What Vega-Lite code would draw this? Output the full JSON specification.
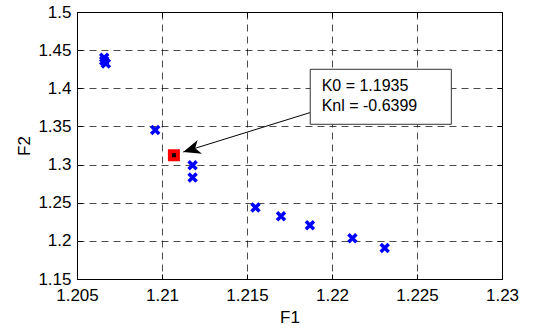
{
  "$schema": "https://vega.github.io/schema/vega-lite/v6.json",
  "autosize": {"type": "none"},
  "width": 425,
  "height": 267,
  "padding": {"left": 77, "top": 12, "right": 31, "bottom": 52},
  "background": "white",
  "config": {
    "view": {"stroke": "black", "strokeWidth": 1},
    "font": "Liberation Sans",
    "axis": {
      "domain": false,
      "ticks": true,
      "tickSize": -5,
      "tickColor": "#000000",
      "tickWidth": 1,
      "grid": true,
      "gridColor": "#000000",
      "gridOpacity": 0.7,
      "gridDash": [7, 5],
      "gridWidth": 1,
      "labelOverlap": false,
      "labelFlush": false,
      "labelBound": false,
      "labelFont": "Liberation Sans",
      "labelFontSize": 17,
      "labelColor": "#000000",
      "titleFont": "Liberation Sans",
      "titleFontSize": 17,
      "titleFontWeight": "normal",
      "titleColor": "#000000"
    }
  },
  "datasets": {
    "points": [
      {"F1": 1.2066, "F2": 1.4400},
      {"F1": 1.2066, "F2": 1.4360},
      {"F1": 1.2067, "F2": 1.4325},
      {"F1": 1.2096, "F2": 1.3453},
      {"F1": 1.2118, "F2": 1.2991},
      {"F1": 1.2118, "F2": 1.2830},
      {"F1": 1.2155, "F2": 1.2436},
      {"F1": 1.2170, "F2": 1.2322},
      {"F1": 1.2187, "F2": 1.2204},
      {"F1": 1.2212, "F2": 1.2034},
      {"F1": 1.2231, "F2": 1.1907}
    ],
    "best": [{"F1": 1.2107, "F2": 1.3122}],
    "box": [{"x1": 1.21872, "x2": 1.22702, "y1": 1.3528, "y2": 1.4249}],
    "labels": [
      {"F1": 1.21939, "F2": 1.4030, "text": "K0 = 1.1935"},
      {"F1": 1.21939, "F2": 1.3768, "text": "Knl = -0.6399"}
    ],
    "arrow": [{"x1": 1.21872, "y1": 1.3682, "x2": 1.21125, "y2": 1.3165}]
  },
  "resolve": {"axis": {"x": "independent", "y": "independent"}},
  "layer": [
    {
      "data": {"name": "points"},
      "mark": {"type": "point", "shape": "M-1,-1L1,1M1,-1L-1,1", "filled": false, "stroke": "#0000ff", "strokeWidth": 3.5, "size": 64, "opacity": 1},
      "encoding": {
        "x": {"field": "F1", "type": "quantitative", "scale": {"domain": [1.205, 1.23], "nice": false, "zero": false}, "axis": {"values": [1.205, 1.21, 1.215, 1.22, 1.225, 1.23], "labelExpr": "format(datum.value, '~g')", "title": "F1", "labelPadding": 13, "titlePadding": 6}},
        "y": {"field": "F2", "type": "quantitative", "scale": {"domain": [1.15, 1.5], "nice": false, "zero": false}, "axis": {"values": [1.15, 1.2, 1.25, 1.3, 1.35, 1.4, 1.45, 1.5], "labelExpr": "format(datum.value, '~g')", "title": "F2", "labelPadding": 11, "titlePadding": 4}}
      }
    },
    {
      "data": {"name": "best"},
      "mark": {"type": "point", "shape": "square", "filled": true, "fill": "#000000", "stroke": "#ff0000", "strokeWidth": 4, "size": 64, "opacity": 1},
      "encoding": {
        "x": {"field": "F1", "type": "quantitative", "axis": {"orient": "top", "values": [1.205, 1.21, 1.215, 1.22, 1.225, 1.23], "labels": false, "title": null, "grid": false}},
        "y": {"field": "F2", "type": "quantitative", "axis": {"orient": "right", "values": [1.15, 1.2, 1.25, 1.3, 1.35, 1.4, 1.45, 1.5], "labels": false, "title": null, "grid": false}}
      }
    },
    {
      "data": {"name": "arrow"},
      "mark": {"type": "rule", "color": "#000000", "strokeWidth": 1},
      "encoding": {
        "x": {"field": "x1", "type": "quantitative", "axis": null},
        "y": {"field": "y1", "type": "quantitative", "axis": null},
        "x2": {"field": "x2"},
        "y2": {"field": "y2"}
      }
    },
    {
      "data": {"name": "arrow"},
      "mark": {"type": "point", "shape": "M0,0L-1,-0.42L-0.72,0L-1,0.42Z", "filled": true, "fill": "#000000", "stroke": null, "size": 1200, "angle": 162.7, "opacity": 1},
      "encoding": {
        "x": {"field": "x2", "type": "quantitative", "axis": null},
        "y": {"field": "y2", "type": "quantitative", "axis": null}
      }
    },
    {
      "data": {"name": "box"},
      "mark": {"type": "rect", "fill": "white", "stroke": "#333333", "strokeWidth": 1},
      "encoding": {
        "x": {"field": "x1", "type": "quantitative", "axis": null},
        "x2": {"field": "x2"},
        "y": {"field": "y1", "type": "quantitative", "axis": null},
        "y2": {"field": "y2"}
      }
    },
    {
      "data": {"name": "labels"},
      "mark": {"type": "text", "align": "left", "baseline": "middle", "font": "Liberation Sans", "fontSize": 16, "color": "#000000"},
      "encoding": {
        "x": {"field": "F1", "type": "quantitative", "axis": null},
        "y": {"field": "F2", "type": "quantitative", "axis": null},
        "text": {"field": "text"}
      }
    }
  ]
}
